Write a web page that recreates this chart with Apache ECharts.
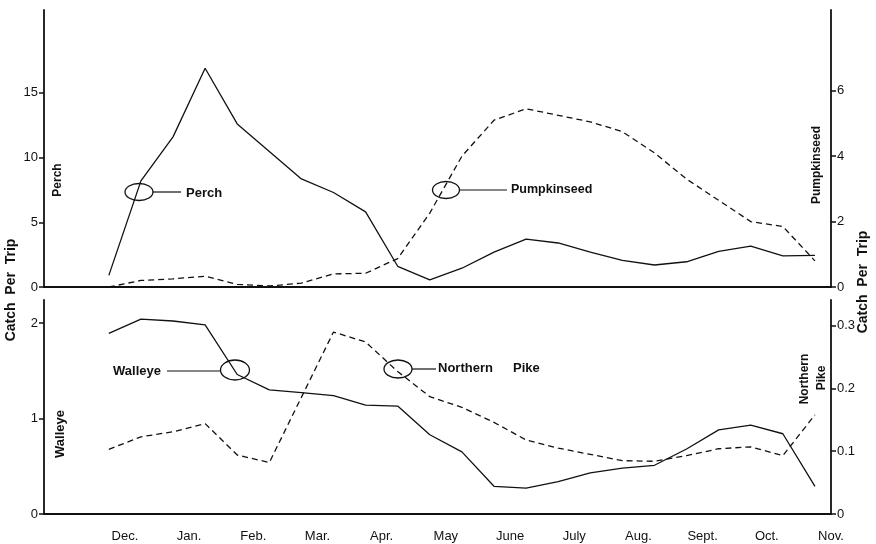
<!DOCTYPE html>
<html>
<head>
<meta charset="utf-8">
<script src="https://cdn.jsdelivr.net/npm/echarts@6/dist/echarts.min.js"></script>
<style>html,body{margin:0;padding:0;background:#fff}#c{width:876px;height:544px}</style>
</head>
<body>
<div id="c"></div>
<script>
// Sampling times in months (Dec. = 0), twice a month
var times = [-0.25,0.25,0.75,1.25,1.75,2.25,2.75,3.25,3.75,4.25,4.75,5.25,5.75,6.25,6.75,7.25,7.75,8.25,8.75,9.25,9.75,10.25,10.75];
var monthLabels = ['Dec.','Jan.','Feb.','Mar.','Apr.','May','June','July','Aug.','Sept.','Oct.','Nov.'];
var perch = [0.9,8.2,11.6,16.9,12.6,null,8.35,7.3,5.8,1.6,0.55,1.45,2.7,3.7,3.4,2.7,2.05,1.7,1.95,2.75,3.15,2.4,2.45];
var pumpkinseed = [0,0.2,0.25,0.33,0.08,0.03,0.12,0.4,0.42,0.87,2.26,4.0,5.1,5.45,5.25,5.05,4.75,4.1,3.3,2.65,2.0,1.85,0.8];
var walleye = [1.89,2.04,2.02,1.98,1.46,1.3,1.27,1.24,1.14,1.13,0.83,0.65,0.29,0.27,0.34,0.43,0.48,0.51,0.68,0.88,0.93,0.84,0.29];
var northernPike = [0.103,0.123,0.131,0.144,0.094,0.082,null,0.29,0.274,0.227,0.187,0.17,0.146,0.118,0.105,0.095,0.085,0.084,0.093,0.104,0.107,0.093,0.158];
var perchTicks = [0,5,10,15];
var pumpTicks = [0,2,4,6];
var walleyeTicks = [0,1,2];
var pikeTicks = [0,0.1,0.2,0.3];
var monthTicks = [0,1,2,3,4,5,6,7,8,9,10,11];

function pairs(v){ return times.map(function(t,i){ return [t, v[i]]; }); }

var INK = '#111';
var FONT = '"Liberation Sans", Arial, sans-serif';
var axisLineStyle = {show:true, onZero:false, lineStyle:{color:INK, width:1.8}};
var tickStyle = {show:true, length:5, lineStyle:{color:INK, width:1.5}};
var labStyle = {color:INK, fontSize:13, fontFamily:FONT, margin:6};

function yAxis(grid, pos, max, ticks, fmt){
  return {
    type:'value', gridIndex:grid, position:pos, min:0, max:max,
    axisLine:axisLineStyle,
    axisTick:Object.assign({customValues:ticks}, tickStyle),
    axisLabel:Object.assign({customValues:ticks, formatter:fmt || function(v){return String(v);}}, labStyle),
    splitLine:{show:false}
  };
}

var chart = echarts.init(document.getElementById('c'), null, {renderer:'canvas'});
var solid = {color:INK, width:1.3};
var dashed = {color:INK, width:1.3, type:[6,4]};

function txt(x, y, s, opt){
  opt = opt || {};
  return {
    type:'text', x:x, y:y, rotation:opt.rot || 0, silent:true,
    style:{text:s, font:(opt.weight||'bold')+' '+(opt.size||13)+'px '+FONT, fill:INK,
      textAlign:opt.align||'left', textVerticalAlign:'middle', align:opt.align||'left', verticalAlign:'middle'}
  };
}
function ell(cx, cy, rx, ry){
  return {type:'ellipse', silent:true, shape:{cx:cx, cy:cy, rx:rx, ry:ry}, style:{fill:'none', stroke:INK, lineWidth:1.3}};
}
function seg(x1, y1, x2, y2){
  return {type:'line', silent:true, shape:{x1:x1, y1:y1, x2:x2, y2:y2}, style:{stroke:INK, lineWidth:1.2}};
}
var R = Math.PI/2;

chart.setOption({
  animation:false,
  backgroundColor:'#fff',
  grid:[
    {left:44, width:787, top:10, height:277},
    {left:44, width:787, top:300, height:214}
  ],
  xAxis:[
    {type:'value', gridIndex:0, min:-1.26, max:11, axisLine:axisLineStyle, axisTick:{show:false}, axisLabel:{show:false}, splitLine:{show:false}},
    {type:'value', gridIndex:1, min:-1.26, max:11, axisLine:axisLineStyle, axisTick:{show:false},
      axisLabel:{customValues:monthTicks, formatter:function(v){ return monthLabels[Math.round(v)] || ''; }, color:INK, fontSize:13, fontFamily:FONT, margin:16},
      splitLine:{show:false}}
  ],
  yAxis:[
    yAxis(0, 'left', 21.4, perchTicks),
    yAxis(0, 'right', 8.47, pumpTicks),
    yAxis(1, 'left', 2.24, walleyeTicks),
    yAxis(1, 'right', 0.341, pikeTicks, function(v){ return v === 0 ? '0' : v.toFixed(1); })
  ],
  series:[
    {name:'Perch', type:'line', xAxisIndex:0, yAxisIndex:0, data:pairs(perch), symbol:'none', connectNulls:true, lineStyle:solid},
    {name:'Pumpkinseed', type:'line', xAxisIndex:0, yAxisIndex:1, data:pairs(pumpkinseed), symbol:'none', connectNulls:true, lineStyle:dashed},
    {name:'Walleye', type:'line', xAxisIndex:1, yAxisIndex:2, data:pairs(walleye), symbol:'none', connectNulls:true, lineStyle:solid},
    {name:'Northern Pike', type:'line', xAxisIndex:1, yAxisIndex:3, data:pairs(northernPike), symbol:'none', connectNulls:true, lineStyle:dashed}
  ],
  graphic:[
    txt(11, 290, 'Catch  Per  Trip', {rot:R, align:'center', size:14}),
    txt(863, 282, 'Catch  Per  Trip', {rot:R, align:'center', size:14}),
    txt(58, 180, 'Perch', {rot:R, align:'center', size:12}),
    txt(817, 165, 'Pumpkinseed', {rot:R, align:'center', size:12}),
    txt(60, 434, 'Walleye', {rot:R, align:'center', size:13}),
    txt(805, 379, 'Northern', {rot:R, align:'center', size:12}),
    txt(822, 378, 'Pike', {rot:R, align:'center', size:12}),
    ell(139, 192, 14, 8.5), seg(153, 192, 181, 192), txt(186, 193, 'Perch'),
    ell(446, 190, 13.5, 8.5), seg(460, 190, 507, 190), txt(511, 190, 'Pumpkinseed', {size:12.5}),
    txt(113, 371, 'Walleye'), seg(167, 371, 221, 371), ell(235, 370, 14.5, 10),
    ell(398, 369, 14, 9), seg(412, 369, 436, 369), txt(438, 368, 'Northern'), txt(513, 368, 'Pike')
  ]
});
</script>
</body>
</html>
